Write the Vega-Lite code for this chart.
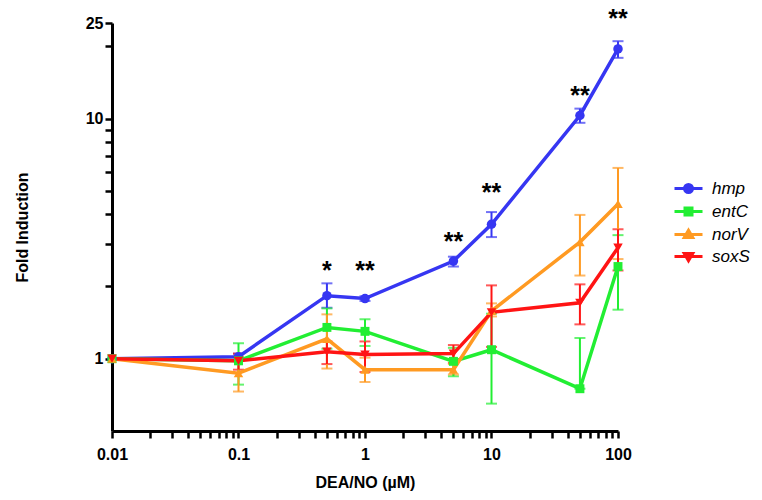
{
  "$schema": "https://vega.github.io/schema/vega-lite/v6.json",
  "width": 506,
  "height": 408,
  "autosize": {"type": "none"},
  "padding": {"left": 112, "top": 23, "right": 144, "bottom": 69},
  "background": "white",
  "config": {
    "view": {"stroke": null},
    "axis": {
      "grid": false,
      "domainColor": "black",
      "domainWidth": 3,
      "tickColor": "black",
      "tickWidth": 2.5,
      "tickSize": 7,
      "labelFont": "Liberation Sans",
      "labelFontWeight": "bold",
      "labelFontSize": 16,
      "labelColor": "black",
      "labelOverlap": false,
      "labelFlush": false,
      "titleFont": "Liberation Sans",
      "titleFontWeight": "bold",
      "titleFontSize": 16,
      "titleColor": "black"
    }
  },
  "datasets": {
    "genes": [
      {"conc": 0.01, "gene": "hmp", "fold": 1},
      {"conc": 0.1, "gene": "hmp", "fold": 1.02, "lo": 0.99, "hi": 1.05},
      {"conc": 0.5, "gene": "hmp", "fold": 1.83, "lo": 1.63, "hi": 2.06},
      {"conc": 1, "gene": "hmp", "fold": 1.78, "lo": 1.74, "hi": 1.82},
      {"conc": 5, "gene": "hmp", "fold": 2.55, "lo": 2.42, "hi": 2.66},
      {"conc": 10, "gene": "hmp", "fold": 3.63, "lo": 3.21, "hi": 4.08},
      {"conc": 50, "gene": "hmp", "fold": 10.3, "lo": 9.6, "hi": 11.0},
      {"conc": 100, "gene": "hmp", "fold": 19.5, "lo": 17.9, "hi": 21.0},
      {"conc": 0.01, "gene": "entC", "fold": 1},
      {"conc": 0.1, "gene": "entC", "fold": 0.98, "lo": 0.78, "hi": 1.16},
      {"conc": 0.5, "gene": "entC", "fold": 1.35, "lo": 1.1, "hi": 1.62},
      {"conc": 1, "gene": "entC", "fold": 1.3, "lo": 1.13, "hi": 1.46},
      {"conc": 5, "gene": "entC", "fold": 0.975, "lo": 0.845, "hi": 1.11},
      {"conc": 10, "gene": "entC", "fold": 1.09, "lo": 0.65, "hi": 1.54},
      {"conc": 50, "gene": "entC", "fold": 0.75, "lo": 0.75, "hi": 1.22},
      {"conc": 100, "gene": "entC", "fold": 2.42, "lo": 1.6, "hi": 3.27},
      {"conc": 0.01, "gene": "norV", "fold": 1},
      {"conc": 0.1, "gene": "norV", "fold": 0.87, "lo": 0.73, "hi": 1.02},
      {"conc": 0.5, "gene": "norV", "fold": 1.21, "lo": 0.91, "hi": 1.53},
      {"conc": 1, "gene": "norV", "fold": 0.9, "lo": 0.8, "hi": 1.01},
      {"conc": 5, "gene": "norV", "fold": 0.9, "lo": 0.86, "hi": 0.95},
      {"conc": 10, "gene": "norV", "fold": 1.58, "lo": 1.5, "hi": 1.7},
      {"conc": 50, "gene": "norV", "fold": 3.06, "lo": 2.22, "hi": 3.97},
      {"conc": 100, "gene": "norV", "fold": 4.41, "lo": 2.6, "hi": 6.23},
      {"conc": 0.01, "gene": "soxS", "fold": 1},
      {"conc": 0.1, "gene": "soxS", "fold": 0.98, "lo": 0.9, "hi": 1.05},
      {"conc": 0.5, "gene": "soxS", "fold": 1.07, "lo": 0.95, "hi": 1.18},
      {"conc": 1, "gene": "soxS", "fold": 1.04, "lo": 0.88, "hi": 1.18},
      {"conc": 5, "gene": "soxS", "fold": 1.05, "lo": 0.96, "hi": 1.14},
      {"conc": 10, "gene": "soxS", "fold": 1.56, "lo": 1.12, "hi": 2.02},
      {"conc": 50, "gene": "soxS", "fold": 1.71, "lo": 1.39, "hi": 2.04},
      {"conc": 100, "gene": "soxS", "fold": 2.9, "lo": 2.33, "hi": 3.46}
    ],
    "stars": [
      {"conc": 0.5, "pos": 2.47, "label": "*"},
      {"conc": 1, "pos": 2.47, "label": "**"},
      {"conc": 5, "pos": 3.27, "label": "**"},
      {"conc": 10, "pos": 5.24, "label": "**"},
      {"conc": 50, "pos": 13.3, "label": "**"},
      {"conc": 100, "pos": 27.8, "label": "**"}
    ]
  },
  "layer": [
    {
      "data": {"name": "genes"},
      "transform": [{"filter": "isValid(datum.lo)"}],
      "mark": {"type": "errorbar", "ticks": {"size": 11, "thickness": 2}, "thickness": 2},
      "encoding": {
        "x": {"field": "conc", "type": "quantitative", "title": "DEA/NO (µM)"},
        "y": {"field": "lo", "type": "quantitative", "title": "Fold Induction"},
        "y2": {"field": "hi"},
        "color": {"field": "gene", "type": "nominal"}
      }
    },
    {
      "data": {"name": "genes"},
      "mark": {"type": "line", "strokeWidth": 3.5},
      "encoding": {
        "x": {
          "field": "conc", "type": "quantitative",
          "scale": {"type": "log", "domain": [0.01, 100], "nice": false},
          "axis": {
            "title": "DEA/NO (µM)",
            "values": [0.01, 0.02, 0.03, 0.04, 0.05, 0.06, 0.07, 0.08, 0.09, 0.1, 0.2, 0.3, 0.4, 0.5, 0.6, 0.7, 0.8, 0.9, 1, 2, 3, 4, 5, 6, 7, 8, 9, 10, 20, 30, 40, 50, 60, 70, 80, 90, 100],
            "labelExpr": "datum.value == 0.01 ? '0.01' : datum.value == 0.1 ? '0.1' : datum.value == 1 ? '1' : datum.value == 10 ? '10' : datum.value == 100 ? '100' : ''",
            "labelPadding": 8,
            "titlePadding": 12
          }
        },
        "y": {
          "field": "fold", "type": "quantitative",
          "scale": {"type": "log", "domain": [0.5, 25], "nice": false},
          "axis": {
            "title": "Fold Induction",
            "values": [1, 2, 3, 4, 5, 6, 7, 8, 9, 10, 20, 25],
            "labelExpr": "datum.value == 1 ? '1' : datum.value == 10 ? '10' : datum.value == 25 ? '25' : ''",
            "labelPadding": 2,
            "titleX": -82,
            "titleY": 204
          }
        },
        "color": {
          "field": "gene", "type": "nominal",
          "scale": {"domain": ["hmp", "entC", "norV", "soxS"], "range": ["#3636f2", "#22ee33", "#ff9a22", "#ff1414"]},
          "legend": {
            "orient": "none",
            "legendX": 568,
            "legendY": 157,
            "title": null,
            "padding": 0,
            "labelFont": "Liberation Sans",
            "labelFontStyle": "italic",
            "labelFontSize": 17,
            "labelColor": "black",
            "symbolSize": 100,
            "labelOffset": 15,
            "rowPadding": 3,
            "encode": {
              "symbols": {
                "update": {
                  "shape": {"signal": "datum.value == 'hmp' ? 'M-2.8,0H2.8M0.8,0A0.8,0.8,0,1,1,-0.8,0A0.8,0.8,0,1,1,0.8,0Z' : datum.value == 'entC' ? 'M-2.8,0H2.8M-0.7,-0.7H0.7V0.7H-0.7Z' : datum.value == 'norV' ? 'M-2.8,0H2.8M0,-0.85L0.85,0.6L-0.85,0.6Z' : 'M-2.8,0H2.8M0,0.85L0.85,-0.6L-0.85,-0.6Z'"},
                  "fill": {"signal": "scale('color', datum.value)"},
                  "stroke": {"signal": "scale('color', datum.value)"},
                  "strokeWidth": {"value": 3},
                  "opacity": {"value": 1}
                }
              }
            }
          }
        }
      }
    },
    {
      "data": {"name": "genes"},
      "transform": [{"filter": "datum.gene == 'hmp'"}],
      "mark": {"type": "point", "shape": "circle", "filled": true, "opacity": 1, "size": 90},
      "encoding": {
        "x": {"field": "conc", "type": "quantitative"},
        "y": {"field": "fold", "type": "quantitative"},
        "color": {"field": "gene", "type": "nominal"}
      }
    },
    {
      "data": {"name": "genes"},
      "transform": [{"filter": "datum.gene == 'entC'"}],
      "mark": {"type": "point", "shape": "square", "filled": true, "opacity": 1, "size": 80},
      "encoding": {
        "x": {"field": "conc", "type": "quantitative"},
        "y": {"field": "fold", "type": "quantitative"},
        "color": {"field": "gene", "type": "nominal"}
      }
    },
    {
      "data": {"name": "genes"},
      "transform": [{"filter": "datum.gene == 'norV'"}],
      "mark": {"type": "point", "shape": "triangle-up", "filled": true, "opacity": 1, "size": 90},
      "encoding": {
        "x": {"field": "conc", "type": "quantitative"},
        "y": {"field": "fold", "type": "quantitative"},
        "color": {"field": "gene", "type": "nominal"}
      }
    },
    {
      "data": {"name": "genes"},
      "transform": [{"filter": "datum.gene == 'soxS'"}],
      "mark": {"type": "point", "shape": "triangle-down", "filled": true, "opacity": 1, "size": 90},
      "encoding": {
        "x": {"field": "conc", "type": "quantitative"},
        "y": {"field": "fold", "type": "quantitative"},
        "color": {"field": "gene", "type": "nominal"}
      }
    },
    {
      "data": {"name": "stars"},
      "mark": {"type": "text", "font": "Liberation Sans", "fontSize": 25, "fontWeight": "bold", "baseline": "alphabetic", "align": "center", "dy": 15, "color": "black"},
      "encoding": {
        "x": {"field": "conc", "type": "quantitative"},
        "y": {"field": "pos", "type": "quantitative"},
        "text": {"field": "label"}
      }
    }
  ]
}
